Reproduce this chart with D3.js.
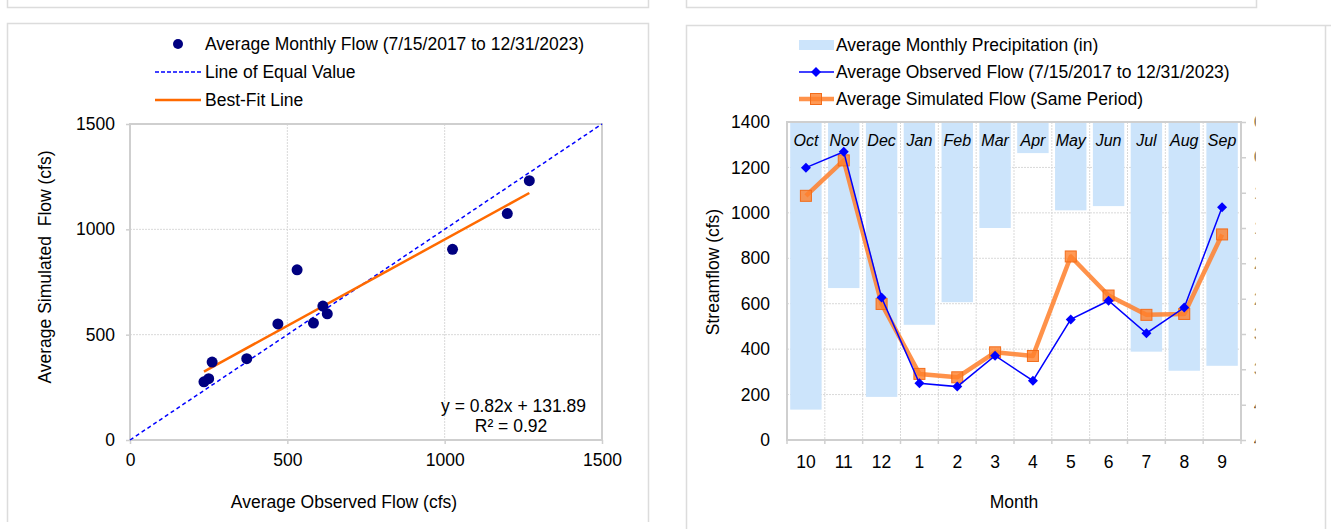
<!DOCTYPE html>
<html>
<head>
<meta charset="utf-8">
<script src="https://cdn.jsdelivr.net/npm/d3@7"></script>
<style>
  body { margin: 0; background: #fff; }
  svg text { font-family: "Liberation Sans", Arial, sans-serif; fill: #000; }
</style>
</head>
<body>
<div id="chart"></div>
<script>
// monthly values, water year order
const months = ['Oct', 'Nov', 'Dec', 'Jan', 'Feb', 'Mar', 'Apr', 'May', 'Jun', 'Jul', 'Aug', 'Sep'];
const monthNums = ['10', '11', '12', '1', '2', '3', '4', '5', '6', '7', '8', '9'];
const precip = [4.07, 2.35, 3.89, 2.87, 2.55, 1.50, 0.44, 1.25, 1.19, 3.25, 3.52, 3.45];
const observed = [1199, 1269, 627, 250, 235, 371, 261, 531, 613, 470, 583, 1025];
const simulated = [1075, 1231, 599, 291, 276, 386, 370, 808, 636, 551, 555, 905];

const fitSlope = 0.82;
const fitIntercept = 131.89;
const fitLabel = 'y = 0.82x + 131.89';
const r2Label = 'R² = 0.92';

const scatterTicks = [0, 500, 1000, 1500];
const flowTicks = [0, 200, 400, 600, 800, 1000, 1200, 1400];
const precipTicks = [0, 0.5, 1, 1.5, 2, 2.5, 3, 3.5, 4, 4.5];

const W = 1331, H = 529;
const FS = 17.5;
const grid = '#d9d9d9';
const frame = '#cfcfcf';
const plain = d3.format('d');

const svg = d3.select('#chart').append('svg')
    .attr('width', W)
    .attr('height', H);

// panel borders (top ones are cut off by the page)
const borders = svg.append('g').attr('fill', 'none').attr('stroke', '#dcdcdc').attr('stroke-width', 1.5);
borders.append('path').attr('d', 'M7.5,0V7.5H648.5V0');
borders.append('path').attr('d', 'M686.5,0V7.5H1256.5V0');
borders.append('path').attr('d', 'M7.5,522V23.5H648.5V522');
borders.append('path').attr('d', 'M686.5,529V25.5H1331');
borders.append('path').attr('d', 'M1325.5,25.5V529');

// ---------------- left: scatter ----------------
const points = observed.map((d, i) => ({x: d, y: simulated[i]}));

const xS = d3.scaleLinear().domain([0, 1500]).range([130, 602]);
const yS = d3.scaleLinear().domain([0, 1500]).range([440, 124]);

const left = svg.append('g');

left.append('g').selectAll('line.v')
    .data(scatterTicks.slice(1, -1))
    .join('line')
    .attr('x1', d => xS(d)).attr('x2', d => xS(d))
    .attr('y1', yS(1500)).attr('y2', yS(0))
    .attr('stroke', grid).attr('stroke-dasharray', '2,1');
left.append('g').selectAll('line.h')
    .data(scatterTicks.slice(1, -1))
    .join('line')
    .attr('x1', xS(0)).attr('x2', xS(1500))
    .attr('y1', d => yS(d)).attr('y2', d => yS(d))
    .attr('stroke', grid).attr('stroke-dasharray', '2,1');

left.append('rect')
    .attr('x', xS(0)).attr('y', yS(1500))
    .attr('width', xS(1500) - xS(0)).attr('height', yS(0) - yS(1500))
    .attr('fill', 'none').attr('stroke', frame).attr('stroke-width', 2);

const xAxisL = d3.axisBottom(xS).tickValues(scatterTicks).tickFormat(plain).tickSize(4).tickPadding(10);
const yAxisL = d3.axisLeft(yS).tickValues(scatterTicks).tickFormat(plain).tickSize(4).tickPadding(11);

const xAxisLG = left.append('g').attr('transform', `translate(0,${yS(0)})`).call(xAxisL);
const yAxisLG = left.append('g').attr('transform', `translate(${xS(0)},0)`).call(yAxisL);
[xAxisLG, yAxisLG].forEach(a => {
    a.select('.domain').remove();
    a.selectAll('line').attr('stroke', frame).attr('stroke-width', 1.5);
    a.selectAll('text').attr('font-size', FS).attr('font-family', null);
});

// line of equal value
left.append('line')
    .attr('x1', xS(0)).attr('y1', yS(0))
    .attr('x2', xS(1500)).attr('y2', yS(1500))
    .attr('stroke', '#0000ff').attr('stroke-width', 1.5)
    .attr('stroke-dasharray', '4,3');

// best-fit line over the observed range
const xExt = d3.extent(observed);
left.append('line')
    .attr('x1', xS(xExt[0])).attr('y1', yS(fitSlope * xExt[0] + fitIntercept))
    .attr('x2', xS(xExt[1])).attr('y2', yS(fitSlope * xExt[1] + fitIntercept))
    .attr('stroke', '#ff6a00').attr('stroke-width', 2.5);

left.append('g').selectAll('circle')
    .data(points)
    .join('circle')
    .attr('cx', d => xS(d.x))
    .attr('cy', d => yS(d.y))
    .attr('r', 5.5)
    .attr('fill', '#000080');

left.append('text')
    .attr('x', 586).attr('y', 412)
    .attr('text-anchor', 'end').attr('font-size', FS)
    .text(fitLabel);
left.append('text')
    .attr('x', 511).attr('y', 432)
    .attr('text-anchor', 'middle').attr('font-size', FS)
    .text(r2Label);

left.append('text')
    .attr('x', 344).attr('y', 508)
    .attr('text-anchor', 'middle').attr('font-size', FS)
    .text('Average Observed Flow (cfs)');
left.append('text')
    .attr('transform', 'translate(51,267) rotate(-90)')
    .attr('text-anchor', 'middle').attr('font-size', FS)
    .attr('xml:space', 'preserve')
    .text('Average Simulated  Flow (cfs)');

// legend
const legL = left.append('g');
legL.append('circle').attr('cx', 178).attr('cy', 44).attr('r', 5).attr('fill', '#000080');
legL.append('line').attr('x1', 155).attr('x2', 201).attr('y1', 72).attr('y2', 72)
    .attr('stroke', '#0000ff').attr('stroke-width', 1.5).attr('stroke-dasharray', '4,2');
legL.append('line').attr('x1', 155).attr('x2', 201).attr('y1', 100).attr('y2', 100)
    .attr('stroke', '#ff6a00').attr('stroke-width', 2.5);
legL.selectAll('text')
    .data(['Average Monthly Flow (7/15/2017 to 12/31/2023)', 'Line of Equal Value', 'Best-Fit Line'])
    .join('text')
    .attr('x', 205).attr('y', (d, i) => 44 + i * 28)
    .attr('dy', '0.35em').attr('font-size', FS)
    .text(d => d);

// ---------------- right: monthly hydrograph ----------------
const xB = d3.scaleBand().domain(months).range([787, 1241]).paddingInner(0.17).paddingOuter(0.085);
const yF = d3.scaleLinear().domain([0, 1400]).range([440, 122]);
const yP = d3.scaleLinear().domain([0, 4.5]).range([122, 440]);   // precipitation hangs from the top

const right = svg.append('g');
const step = xB.step();
const bounds = d3.range(months.length + 1).map(i => 787 + i * step);
const mid = i => xB(months[i]) + xB.bandwidth() / 2;

right.append('g').selectAll('line')
    .data(bounds.slice(1, -1))
    .join('line')
    .attr('x1', d => d).attr('x2', d => d)
    .attr('y1', yF(1400)).attr('y2', yF(0))
    .attr('stroke', grid).attr('stroke-dasharray', '2,1');
right.append('g').selectAll('line')
    .data(flowTicks.slice(1, -1))
    .join('line')
    .attr('x1', 787).attr('x2', 1241)
    .attr('y1', d => yF(d)).attr('y2', d => yF(d))
    .attr('stroke', grid).attr('stroke-dasharray', '2,1');

right.append('g').selectAll('rect')
    .data(precip)
    .join('rect')
    .attr('x', (d, i) => xB(months[i]))
    .attr('y', yP(0))
    .attr('width', xB.bandwidth())
    .attr('height', d => yP(d) - yP(0))
    .attr('fill', '#cce4fb');

right.append('rect')
    .attr('x', 787).attr('y', yF(1400))
    .attr('width', 1241 - 787).attr('height', yF(0) - yF(1400))
    .attr('fill', 'none').attr('stroke', frame).attr('stroke-width', 2);

right.append('g').selectAll('text')
    .data(months)
    .join('text')
    .attr('x', (d, i) => mid(i))
    .attr('y', 140).attr('dy', '0.35em')
    .attr('text-anchor', 'middle').attr('font-size', 16)
    .attr('font-style', 'italic')
    .text(d => d);

// category axis: ticks on band edges, number labels in the middle
right.append('g').selectAll('line')
    .data(bounds)
    .join('line')
    .attr('x1', d => d).attr('x2', d => d)
    .attr('y1', yF(0)).attr('y2', yF(0) + 4)
    .attr('stroke', frame).attr('stroke-width', 1.5);
right.append('g').selectAll('text')
    .data(monthNums)
    .join('text')
    .attr('x', (d, i) => mid(i))
    .attr('y', 462).attr('dy', '0.35em')
    .attr('text-anchor', 'middle').attr('font-size', FS)
    .text(d => d);

const yAxisR = d3.axisLeft(yF).tickValues(flowTicks).tickFormat(plain).tickSize(0).tickPadding(17);
const yAxisRG = right.append('g').attr('transform', 'translate(787,0)').call(yAxisR);
yAxisRG.select('.domain').remove();
yAxisRG.selectAll('text').attr('font-size', FS).attr('font-family', null);

// precipitation axis, the page cuts off its labels (clip is in the axis' own coordinates)
svg.append('defs').append('clipPath').attr('id', 'cutR')
    .append('rect').attr('x', -10).attr('y', 0).attr('width', 1255.5 - 1241 + 10).attr('height', H);
const pAxis = d3.axisRight(yP).tickValues(precipTicks).tickSize(5).tickPadding(8)
    .tickFormat(d3.format('.1f'));
const pAxisG = right.append('g').attr('transform', 'translate(1241,0)')
    .attr('clip-path', 'url(#cutR)').call(pAxis);
pAxisG.select('.domain').remove();
pAxisG.selectAll('line').attr('stroke', frame).attr('stroke-width', 1.5);
pAxisG.selectAll('text').attr('font-size', FS).attr('font-family', null);

// observed and simulated flow lines
const lineGen = d3.line()
    .x((d, i) => mid(i))
    .y(d => yF(d));

right.append('path')
    .attr('d', lineGen(simulated))
    .attr('fill', 'none').attr('stroke', '#ff7f2a').attr('stroke-opacity', 0.85)
    .attr('stroke-width', 4.5).attr('stroke-linejoin', 'round');
right.append('g').selectAll('rect')
    .data(simulated)
    .join('rect')
    .attr('x', (d, i) => mid(i) - 5.5)
    .attr('y', d => yF(d) - 5.5)
    .attr('width', 11).attr('height', 11)
    .attr('fill', '#ff7f2a').attr('fill-opacity', 0.8)
    .attr('stroke', '#f26c1a').attr('stroke-width', 1);

right.append('path')
    .attr('d', lineGen(observed))
    .attr('fill', 'none').attr('stroke', '#0000ff').attr('stroke-width', 1.5);

// diamond = square turned 45 degrees
const diamond = d3.symbol(d3.symbolSquare, 50);
right.append('g').selectAll('path')
    .data(observed)
    .join('path')
    .attr('d', diamond)
    .attr('transform', (d, i) => `translate(${mid(i)},${yF(d)}) rotate(45)`)
    .attr('fill', '#0000ff');

right.append('text')
    .attr('x', 1014).attr('y', 508)
    .attr('text-anchor', 'middle').attr('font-size', FS)
    .text('Month');
right.append('text')
    .attr('transform', 'translate(719,272) rotate(-90)')
    .attr('text-anchor', 'middle').attr('font-size', FS)
    .text('Streamflow (cfs)');

// legend
const legR = right.append('g');
legR.append('rect').attr('x', 799).attr('y', 40).attr('width', 35).attr('height', 10).attr('fill', '#cce4fb');
legR.append('line').attr('x1', 799).attr('x2', 834).attr('y1', 72).attr('y2', 72)
    .attr('stroke', '#0000ff').attr('stroke-width', 1.5);
legR.append('path').attr('d', diamond)
    .attr('transform', 'translate(816,72) rotate(45)').attr('fill', '#0000ff');
legR.append('line').attr('x1', 799).attr('x2', 834).attr('y1', 99).attr('y2', 99)
    .attr('stroke', '#ff7f2a').attr('stroke-opacity', 0.85).attr('stroke-width', 4.5);
legR.append('rect').attr('x', 810.5).attr('y', 93.5).attr('width', 11).attr('height', 11)
    .attr('fill', '#ff7f2a').attr('fill-opacity', 0.8).attr('stroke', '#f26c1a');
legR.selectAll('text')
    .data(['Average Monthly Precipitation (in)', 'Average Observed Flow (7/15/2017 to 12/31/2023)', 'Average Simulated Flow (Same Period)'])
    .join('text')
    .attr('x', 836).attr('y', (d, i) => 45 + i * 27)
    .attr('dy', '0.35em').attr('font-size', FS)
    .text(d => d);
</script>
</body>
</html>
